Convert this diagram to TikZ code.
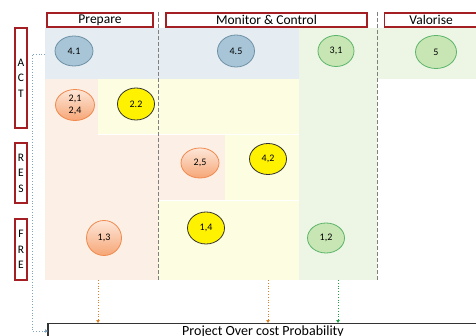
\documentclass[tikz,border=0pt]{standalone}
\usepackage{fontspec}
\setmainfont{Carlito}
\usetikzlibrary{arrows.meta}
\definecolor{bandblue}{HTML}{E5EDF2}
\definecolor{bandpeach}{HTML}{FCEFE5}
\definecolor{bandyellow}{HTML}{FDFDE1}
\definecolor{bandgreen}{HTML}{EDF5E4}
\definecolor{hdred}{HTML}{A31F24}
\definecolor{elblue}{HTML}{A7C5D7}
\definecolor{elblueb}{HTML}{6E90A5}
\definecolor{elgreen}{HTML}{C8E6B4}
\definecolor{elgreenb}{HTML}{5AB56A}
\definecolor{elorange}{HTML}{F6A676}
\definecolor{elorangel}{HTML}{FDE6D8}
\definecolor{elorangeb}{HTML}{F08A4E}
\definecolor{arrorange}{HTML}{D9822B}
\definecolor{arrgreen}{HTML}{21A04A}
\definecolor{arrblue}{HTML}{7FA3C0}
\tikzset{
  x=1pt,y=-1pt,
  hdr/.style={draw=hdred,line width=1.2pt,fill=white,inner sep=0pt,font=\fontsize{13.5}{14}\selectfont},
  side/.style={draw=hdred,line width=1.2pt,fill=white,inner sep=0pt,minimum width=12pt,font=\fontsize{11.5}{15.5}\selectfont,align=center},
  el/.style={ellipse,inner sep=0pt,line width=0.8pt,font=\fontsize{10}{12}\selectfont,align=center},
  blueel/.style={el,draw=elblueb,fill=elblue},
  greenel/.style={el,draw=elgreenb,fill=elgreen},
  orangeel/.style={el,draw=elorangeb,top color=elorangel,bottom color=elorange},
  yellowel/.style={el,draw=black!80,fill=yellow},
  sep/.style={draw=gray,line width=1pt,dash pattern=on 4pt off 2pt},
  dotarr/.style={dotted,line width=0.8pt,-{Triangle[length=3pt,width=3.5pt]}},
}
\usetikzlibrary{shapes.geometric}
\begin{document}
\begin{tikzpicture}
\useasboundingbox (0,0) rectangle (476,336);
% background bands
\fill[bandblue] (45,28) rectangle (299,79);
\fill[bandgreen] (299,28) rectangle (377,280);
\fill[bandgreen] (377,28) rectangle (476,79);
\fill[bandpeach] (45,79) rectangle (98,135);
\fill[bandyellow] (98,79) rectangle (299,134);
\fill[bandpeach] (45,135) rectangle (225,200);
\fill[bandyellow] (225,135) rectangle (299,200);
\fill[bandpeach] (45,200) rectangle (158,280);
\fill[bandyellow] (158,201) rectangle (299,280);
% separators
\draw[sep] (158,12) -- (158,280);
\draw[sep] (377,12) -- (377,280);
% headers
\node[hdr,minimum width=106pt,minimum height=14pt] (prep) at (100,20) {Prepare};
\node[hdr,minimum width=201pt,minimum height=14pt] (mon) at (266.5,20) {Monitor \& Control};
\node[hdr,minimum width=106pt,minimum height=14pt,anchor=west] (val) at (384,20) {\hspace*{-13pt}Valorise};
% side labels
\node[side,minimum height=100pt] (act) at (21,78) {A\\C\\T};
\node[side,minimum height=60pt] (res) at (21,173) {R\\E\\S};
\node[side,minimum height=61pt] (fre) at (21,249.5) {F\\R\\E};
% ellipses
\node[blueel,minimum width=38pt,minimum height=30pt] (e41) at (74,51) {4.1};
\node[blueel,minimum width=37pt,minimum height=32pt] (e45) at (236,51) {4.5};
\node[greenel,minimum width=36pt,minimum height=31pt] (e31) at (336,51) {3,1};
\node[greenel,minimum width=41pt,minimum height=33pt] (e5) at (436,52) {5};
\node[orangeel,minimum width=39pt,minimum height=31pt] (e21) at (75,105) {2,1\\2,4};
\node[yellowel,minimum width=37pt,minimum height=32pt] (e22) at (136,104) {2.2};
\node[orangeel,minimum width=38pt,minimum height=30pt] (e25) at (200,163) {2,5};
\node[yellowel,minimum width=37pt,minimum height=31pt] (e42) at (268,159) {4,2};
\node[yellowel,minimum width=37pt,minimum height=32pt] (e14) at (206,228) {1,4};
\node[orangeel,minimum width=35pt,minimum height=35pt] (e13) at (104,238) {1,3};
\node[greenel,minimum width=37pt,minimum height=30pt] (e12) at (326,238) {1,2};
% bottom box
\draw[line width=1.2pt,fill=white,draw=black!80] (48,323.5) rectangle (490,350);
\node[font=\fontsize{14}{15}\selectfont,anchor=base] (pocp) at (263,335.5) {Project Over cost Probability};
\coordinate (boxleft) at (48,331);
% arrows
\coordinate (prepbot) at (98,280);
\coordinate (monbot) at (268,280);
\coordinate (grnbot) at (338,280);
\coordinate (actleft) at (45,54);
\draw[dotarr,arrorange] (prepbot) -- (98,323);
\draw[dotarr,arrorange] (monbot) -- (268,323);
\draw[dotarr,arrgreen] (grnbot) -- (338,323);
\draw[dotarr,arrblue] (actleft) -- (32,54) -- (32,331) -- (boxleft);
\end{tikzpicture}
\end{document}
